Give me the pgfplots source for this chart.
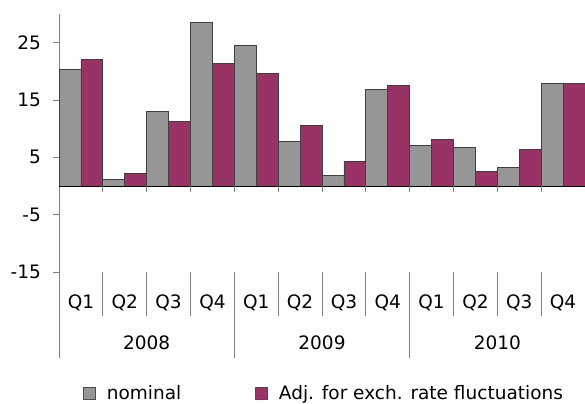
\documentclass[border=0pt]{standalone}
\usepackage{pgfplots}
\pgfplotsset{compat=1.18}
\usepackage{fontspec}
\setmainfont{DejaVu Sans}
\definecolor{nomgray}{HTML}{969696}
\definecolor{adjpurple}{HTML}{993366}
\definecolor{axgray}{HTML}{808080}
\begin{document}
\begin{tikzpicture}
\useasboundingbox (0,0) rectangle (585bp,404bp);
\begin{axis}[
  at={(59bp,132bp)}, anchor=south west,
  scale only axis, width=526bp, height=258bp,
  font=\fontsize{18.5bp}{22bp}\selectfont,
  /pgf/number format/assume math mode=true,
  xmin=-0.5, xmax=11.5, ymin=-15, ymax=30,
  ytick={-15,-5,5,15,25},
  xtick={0,...,11},
  xticklabels={Q1,Q2,Q3,Q4,Q1,Q2,Q3,Q4,Q1,Q2,Q3,Q4},
  extra x ticks={1.5,5.5,9.5},
  extra x tick labels={2008,2009,2010},
  extra x tick style={tick style={draw=none}, xticklabel style={yshift=-41bp}},
  axis lines*=left,
  x axis line style={draw=none},
  y axis line style={draw=axgray, line width=0.8bp, -},
  xtick style={draw=none},
  ytick style={draw=axgray, line width=0.8bp},
  tick align=outside, major tick length=6bp,
  xticklabel style={anchor=base, yshift=-30bp, inner sep=0pt},
  yticklabel style={anchor=east, inner sep=0pt, xshift=-12bp},
  clip=false,
  legend columns=2,
  legend style={draw=none, fill=none, at={(axis description cs:0,0)}, anchor=south west,
    xshift=24bp, yshift=-131bp, inner sep=0pt,
    /tikz/every even column/.append style={column sep=72bp}},
  legend image code/.code={\draw[#1, draw=black!70, line width=0.6bp] (0bp,-6bp) rectangle (12bp,6bp); \path (21bp,0);},
]
\addplot[ybar, bar width=0.5, bar shift=-0.25, fill=nomgray, draw=black!75, line width=0.8bp]
  coordinates {(0,20.3) (1,1.1) (2,13.0) (3,28.6) (4,24.5) (5,7.8) (6,1.9) (7,16.9) (8,7.15) (9,6.8) (10,3.3) (11,17.9)};
\addlegendentry{nominal}
\addplot[ybar, bar width=0.5, bar shift=0.25, fill=adjpurple, draw=black!75, line width=0.8bp]
  coordinates {(0,22.0) (1,2.2) (2,11.2) (3,21.3) (4,19.6) (5,10.6) (6,4.25) (7,17.5) (8,8.1) (9,2.6) (10,6.4) (11,17.9)};
\addlegendentry{Adj. for exch. rate fluctuations}
\draw[black, line width=0.9bp] (axis cs:-0.5,0) -- (axis cs:11.5,0);
\pgfplotsinvokeforeach{0.5,1.5,2.5,3.5,4.5,5.5,6.5,7.5,8.5,9.5,10.5}{
  \draw[axgray, line width=0.8bp] (axis cs:#1,0) -- ([yshift=-6bp]axis cs:#1,0);
}
\pgfplotsinvokeforeach{0.5,1.5,2.5,4.5,5.5,6.5,8.5,9.5,10.5}{
  \draw[axgray, line width=0.8bp] (axis cs:#1,-15) -- ([yshift=-44bp]axis cs:#1,-15);
}
\pgfplotsinvokeforeach{-0.5,3.5,7.5}{
  \draw[axgray, line width=0.8bp] (axis cs:#1,-15) -- ([yshift=-86bp]axis cs:#1,-15);
}
\end{axis}
\end{tikzpicture}
\end{document}
